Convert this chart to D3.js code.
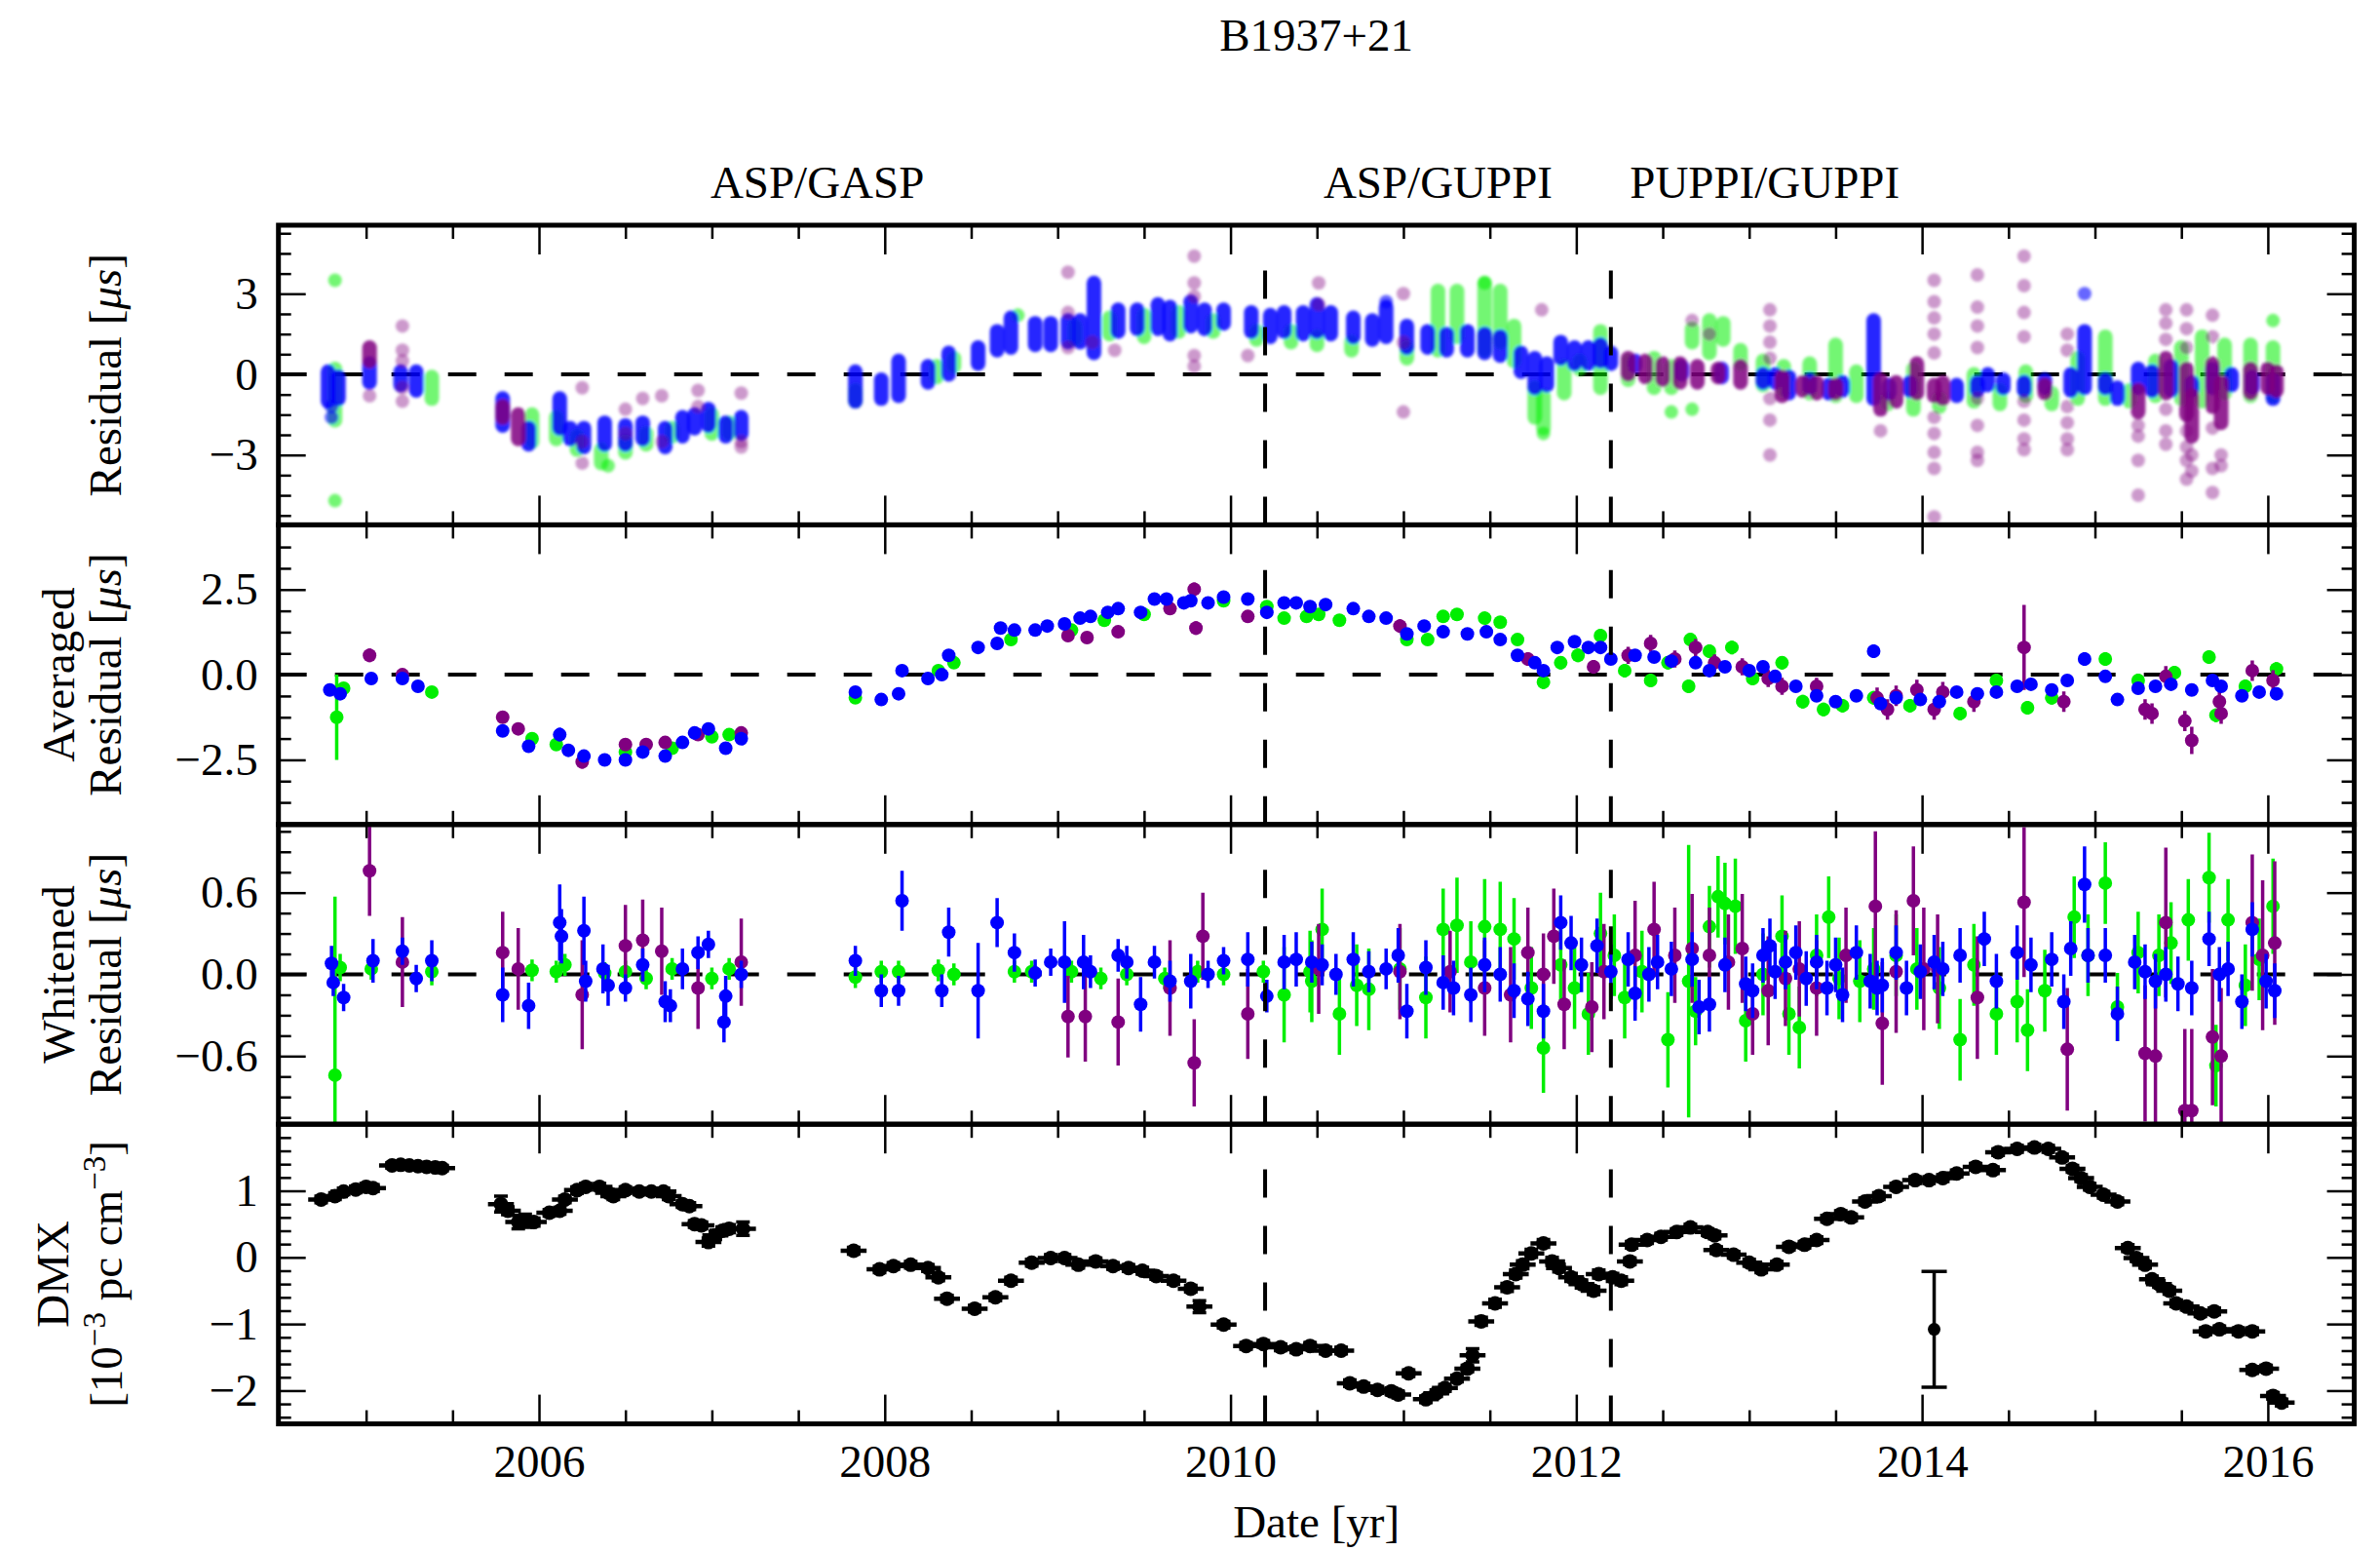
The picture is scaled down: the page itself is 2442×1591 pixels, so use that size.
<!DOCTYPE html>
<html>
<head>
<meta charset="utf-8">
<script src="https://cdn.jsdelivr.net/npm/d3@7"></script>
<style>
  body { margin: 0; background: #fff; }
</style>
</head>
<body>
<svg id="chart"></svg>
<script>
// ---------- data ----------
const chartTitle = "B1937+21";
const yearTicks = [2006, 2008, 2010, 2012, 2014, 2016];
const backendNames = ["ASP/GASP", "ASP/GUPPI", "PUPPI/GUPPI"];
const backendNameYears = [2007.61, 2011.2, 2013.09];
const backendBreaks = [2010.2, 2012.2];

const resTicks = [-3, 0, 3];
const avgTicks = [-2.5, 0, 2.5];
const whiteTicks = [-0.6, 0, 0.6];
const dmxTicks = [-2, -1, 0, 1];

// panel 1: raw residuals, per epoch [year, low, high] plus single outlying TOAs [year, value]
const resBlueEpochs = [
  [2004.78,-1.0,0.1],[2004.84,-0.9,-0.1],[2005.02,-0.3,0.4],[2005.20,-0.4,0.1],[2005.29,-0.6,0.1],
  [2005.79,-1.9,-0.9],[2005.94,-2.6,-2.0],[2006.12,-2.0,-0.9],[2006.18,-2.4,-2.0],[2006.26,-2.7,-2.0],
  [2006.38,-2.6,-1.8],[2006.50,-2.6,-1.9],[2006.60,-2.4,-1.8],[2006.73,-2.7,-2.0],[2006.83,-2.3,-1.6],
  [2006.90,-2.0,-1.5],[2006.98,-1.9,-1.3],[2007.08,-2.3,-1.8],[2007.17,-2.2,-1.6],
  [2007.83,-1.0,0.1],[2007.98,-0.9,-0.2],[2008.08,-0.8,0.5],[2008.25,-0.3,0.3],[2008.37,0.0,0.8],
  [2008.54,0.4,1.0],[2008.65,0.9,1.6],[2008.73,1.0,2.1],[2008.87,1.1,1.9],[2008.96,1.1,1.9],
  [2009.06,1.2,2.0],[2009.13,1.2,2.0],[2009.21,0.8,3.4],[2009.35,1.6,2.4],[2009.46,1.7,2.4],
  [2009.58,1.7,2.6],[2009.65,1.5,2.5],[2009.77,1.8,2.7],[2009.85,1.7,2.4],[2009.96,1.9,2.4],
  [2010.12,1.6,2.3],[2010.23,1.4,2.2],[2010.31,1.6,2.3],[2010.42,1.5,2.3],[2010.50,1.6,2.6],
  [2010.58,1.5,2.3],[2010.71,1.4,2.1],[2010.82,1.3,2.0],[2010.90,1.4,2.5],[2011.02,1.0,1.8],
  [2011.14,1.0,1.6],[2011.25,0.9,1.5],[2011.37,0.9,1.6],[2011.47,0.8,1.5],[2011.56,0.7,1.4],
  [2011.68,0.1,0.8],[2011.76,-0.5,0.6],[2011.83,-0.4,0.4],[2011.91,0.6,1.2],[2011.99,0.4,1.0],
  [2012.07,0.4,1.0],[2012.14,0.5,1.1],[2012.20,0.4,0.8],[2012.34,0.3,0.5],[2012.61,0.0,0.3],
  [2012.84,-0.1,0.2],[2013.08,-0.3,0.0],[2013.15,-0.3,0.0],[2013.23,-0.7,-0.1],[2013.35,-0.5,-0.2],
  [2013.46,-0.7,-0.4],[2013.54,-0.6,-0.3],[2013.72,-0.9,2.0],[2013.81,-0.7,-0.4],[2013.93,-0.6,-0.3],
  [2014.20,-0.8,-0.4],[2014.32,-0.6,-0.3],[2014.38,-0.4,0.0],[2014.47,-0.5,-0.2],[2014.59,-0.6,-0.3],
  [2014.71,-0.5,-0.2],[2014.86,-0.6,0.0],[2014.94,-0.5,1.6],[2015.06,-0.5,-0.2],[2015.13,-0.9,-0.5],
  [2015.25,-0.5,0.2],[2015.33,-0.6,0.1],[2015.44,-0.6,0.3],[2015.56,-0.6,-0.3],[2015.68,-0.5,0.2],
  [2015.79,-0.4,0.0],[2015.91,-0.5,-0.1],[2016.03,-0.9,-0.2]
];
const resBlueOut = [[2004.80,-1.2],[2004.80,-1.6],[2010.90,2.7],[2014.94,3.0]];

const resGreenEpochs = [
  [2004.82,-1.7,0.2],[2005.38,-0.9,-0.1],[2005.96,-2.5,-1.5],[2006.10,-2.4,-1.6],[2006.22,-2.8,-2.3],
  [2006.36,-3.3,-2.8],[2006.50,-2.9,-2.5],[2006.62,-2.6,-2.2],[2006.77,-2.3,-2.0],[2007.00,-2.2,-1.5],
  [2007.10,-2.2,-1.8],[2007.83,-1.0,-0.6],[2008.30,-0.1,0.3],[2008.40,0.3,0.6],[2009.10,1.3,1.8],
  [2009.30,1.5,2.1],[2009.50,1.4,2.2],[2009.70,1.6,2.3],[2009.90,1.6,2.0],[2010.15,1.3,1.6],
  [2010.35,1.2,1.6],[2010.50,1.1,1.4],[2010.70,0.9,1.2],[2011.02,0.6,1.0],[2011.20,0.9,3.1],
  [2011.31,1.4,3.1],[2011.47,0.9,3.4],[2011.56,1.2,3.1],[2011.64,0.5,1.8],[2011.76,-1.6,-0.5],
  [2011.81,-2.0,-0.8],[2011.93,-0.7,0.3],[2012.02,0.2,0.5],[2012.14,-0.5,1.6],[2012.30,-0.2,0.5],
  [2012.45,-0.5,0.6],[2012.55,-0.5,0.3],[2012.67,1.2,1.7],[2012.77,0.8,2.0],[2012.85,1.3,1.9],
  [2012.95,0.4,0.9],[2013.08,-0.4,0.5],[2013.20,-0.6,0.3],[2013.35,-0.7,0.4],[2013.50,-0.8,1.1],
  [2013.62,-0.8,0.1],[2013.80,-1.1,-0.9],[2013.95,-1.3,0.2],[2014.10,-1.2,-0.9],[2014.30,-1.0,0.0],
  [2014.45,-1.1,-0.6],[2014.60,-0.8,0.1],[2014.75,-1.1,-0.7],[2014.90,-0.9,0.6],[2015.06,-0.9,1.4],
  [2015.20,-1.0,-0.6],[2015.35,-0.8,0.5],[2015.50,-0.9,1.0],[2015.62,-1.0,1.4],[2015.75,-0.7,1.1],
  [2015.90,-0.8,1.1],[2016.03,-0.8,1.0]
];
const resGreenOut = [[2004.82,3.5],[2004.82,-4.7],[2006.40,-3.4],[2008.77,2.2],[2011.47,3.4],
  [2011.81,-2.2],[2012.55,-1.4],[2012.67,-1.3],[2016.03,2.0]];

const resPurpleEpochs = [
  [2005.02,0.5,1.0],[2005.79,-1.6,-1.2],[2005.88,-2.4,-1.5],[2012.30,0.0,0.6],[2012.40,-0.1,0.5],
  [2012.50,-0.2,0.4],[2012.60,-0.3,0.4],[2012.70,-0.3,0.3],[2012.82,-0.1,0.2],[2012.95,-0.3,0.3],
  [2013.19,-0.8,-0.1],[2013.31,-0.6,-0.3],[2013.39,-0.7,-0.3],[2013.50,-0.7,-0.4],[2013.76,-1.3,-0.2],
  [2013.85,-1.0,-0.3],[2013.97,-0.7,0.4],[2014.07,-0.8,-0.4],[2014.12,-0.9,-0.3],[2014.71,-0.7,-0.4],
  [2015.25,-1.4,-0.6],[2015.41,-0.7,0.6],[2015.53,-1.5,0.2],[2015.56,-2.3,-0.8],[2015.68,-1.2,0.4],
  [2015.73,-1.8,-0.3],[2015.90,-0.7,0.2],[2016.00,-0.5,0.2],[2016.05,-0.6,0.1]
];
const resPurpleOut = [
  [2005.02,-0.8],[2005.21,1.8],[2005.21,0.9],[2005.21,0.5],[2005.21,-0.5],[2005.21,-1.0],
  [2006.25,-0.5],[2006.25,-2.5],[2006.25,-3.3],[2006.50,-1.3],[2006.50,-2.2],[2006.60,-0.9],
  [2006.71,-0.8],[2006.71,-2.5],[2006.92,-0.6],[2006.92,-1.2],[2007.17,-0.7],[2007.17,-2.5],
  [2007.17,-2.7],[2009.06,3.8],[2009.06,2.3],[2009.06,1.0],[2009.20,1.2],[2009.33,0.9],
  [2009.79,4.4],[2009.79,3.4],[2009.79,2.9],[2009.79,0.7],[2009.79,0.3],[2010.10,0.7],
  [2010.51,3.4],[2010.51,2.6],[2011.00,3.0],[2011.00,1.2],[2011.00,-1.4],[2011.80,2.4],
  [2012.67,2.0],[2012.77,1.5],[2013.12,2.4],[2013.12,1.8],[2013.12,1.2],[2013.12,0.6],
  [2013.12,-0.9],[2013.12,-1.7],[2013.12,-3.0],[2013.76,-2.1],[2014.07,3.5],[2014.07,2.7],
  [2014.07,2.1],[2014.07,1.5],[2014.07,0.8],[2014.07,-1.6],[2014.07,-2.2],[2014.07,-2.9],
  [2014.07,-3.5],[2014.07,-5.3],[2014.32,3.7],[2014.32,2.5],[2014.32,1.8],[2014.32,1.0],
  [2014.32,-0.9],[2014.32,-1.9],[2014.32,-2.9],[2014.32,-3.2],[2014.59,4.4],[2014.59,3.3],
  [2014.59,2.3],[2014.59,1.4],[2014.59,-1.0],[2014.59,-1.7],[2014.59,-2.4],[2014.59,-2.8],
  [2014.84,1.5],[2014.84,0.9],[2014.84,-1.2],[2014.84,-1.8],[2014.84,-2.4],[2014.84,-2.8],
  [2015.25,-1.9],[2015.25,-2.3],[2015.25,-3.2],[2015.25,-4.5],[2015.41,2.4],[2015.41,1.9],
  [2015.41,1.3],[2015.41,-1.3],[2015.41,-2.1],[2015.41,-2.6],[2015.53,2.4],[2015.53,1.7],
  [2015.53,1.0],[2015.53,-2.1],[2015.53,-2.7],[2015.53,-3.2],[2015.53,-3.9],[2015.56,-3.0],
  [2015.56,-3.6],[2015.68,2.2],[2015.68,1.4],[2015.68,-2.0],[2015.68,-3.5],[2015.68,-4.4],
  [2015.73,-3.0],[2015.73,-3.4]
];

// panel 2: averaged residuals [year, value, error]
const avgBlue = [
  [2004.79,-0.45,0.12],[2004.85,-0.56,0.12],[2005.03,-0.11,0.1],[2005.21,-0.11,0.1],[2005.30,-0.34,0.1],
  [2005.79,-1.65,0.12],[2005.94,-2.10,0.1],[2006.12,-1.76,0.2],[2006.17,-2.22,0.1],[2006.26,-2.39,0.15],
  [2006.38,-2.50,0.1],[2006.50,-2.50,0.1],[2006.60,-2.27,0.1],[2006.73,-2.39,0.1],[2006.83,-1.99,0.1],
  [2006.90,-1.71,0.1],[2006.98,-1.59,0.12],[2007.08,-2.16,0.1],[2007.17,-1.88,0.1],
  [2007.83,-0.51,0.1],[2007.98,-0.73,0.1],[2008.08,-0.56,0.1],[2008.10,0.12,0.15],[2008.25,-0.11,0.1],
  [2008.33,0.00,0.1],[2008.37,0.57,0.15],[2008.54,0.80,0.15],[2008.65,0.92,0.1],[2008.67,1.37,0.12],
  [2008.75,1.31,0.1],[2008.87,1.31,0.1],[2008.94,1.43,0.1],[2009.04,1.49,0.1],[2009.13,1.66,0.12],
  [2009.19,1.71,0.1],[2009.29,1.83,0.1],[2009.35,1.94,0.1],[2009.48,1.83,0.1],[2009.56,2.22,0.1],
  [2009.63,2.22,0.1],[2009.73,2.11,0.1],[2009.77,2.17,0.1],[2009.87,2.11,0.1],[2009.96,2.28,0.1],
  [2010.10,2.22,0.1],[2010.21,1.83,0.1],[2010.31,2.11,0.1],[2010.38,2.11,0.1],[2010.46,2.00,0.1],
  [2010.55,2.06,0.1],[2010.71,1.94,0.1],[2010.80,1.71,0.1],[2010.90,1.66,0.1],[2011.02,1.20,0.1],
  [2011.12,1.43,0.1],[2011.23,1.26,0.1],[2011.37,1.20,0.1],[2011.48,1.26,0.1],[2011.56,1.03,0.1],
  [2011.66,0.57,0.1],[2011.76,0.35,0.1],[2011.81,0.12,0.1],[2011.89,0.80,0.1],[2011.99,0.97,0.1],
  [2012.07,0.80,0.1],[2012.14,0.80,0.1],[2012.20,0.46,0.1],[2012.34,0.57,0.1],[2012.45,0.52,0.1],
  [2012.55,0.40,0.1],[2012.69,0.35,0.1],[2012.77,0.12,0.1],[2012.86,0.23,0.1],[2013.00,0.12,0.1],
  [2013.08,0.23,0.1],[2013.15,-0.05,0.1],[2013.27,-0.34,0.1],[2013.39,-0.62,0.1],[2013.50,-0.79,0.1],
  [2013.62,-0.62,0.1],[2013.72,0.69,0.2],[2013.76,-0.85,0.1],[2013.85,-0.68,0.1],[2013.99,-0.73,0.1],
  [2014.10,-0.79,0.1],[2014.20,-0.51,0.1],[2014.32,-0.56,0.1],[2014.43,-0.51,0.1],[2014.55,-0.34,0.1],
  [2014.63,-0.28,0.1],[2014.75,-0.45,0.1],[2014.84,-0.17,0.1],[2014.94,0.46,0.2],[2015.06,-0.05,0.1],
  [2015.13,-0.73,0.12],[2015.25,-0.40,0.1],[2015.35,-0.34,0.1],[2015.44,-0.28,0.1],[2015.56,-0.45,0.1],
  [2015.68,-0.17,0.1],[2015.73,-0.34,0.1],[2015.85,-0.62,0.1],[2015.95,-0.51,0.1],[2016.05,-0.56,0.1]
];
const avgGreen = [
  [2004.83,-1.25,1.25],[2004.87,-0.40,0.15],[2005.38,-0.51,0.1],[2005.96,-1.88,0.1],[2006.10,-2.05,0.1],
  [2006.50,-2.27,0.1],[2006.77,-2.16,0.1],[2007.00,-1.82,0.1],[2007.10,-1.76,0.1],[2007.83,-0.68,0.1],
  [2008.31,0.12,0.1],[2008.40,0.35,0.1],[2008.73,1.03,0.1],[2009.08,1.31,0.1],[2009.27,1.60,0.1],
  [2009.50,1.77,0.1],[2009.96,2.17,0.1],[2010.21,2.00,0.1],[2010.31,1.66,0.1],[2010.44,1.71,0.1],
  [2010.51,1.77,0.15],[2010.63,1.60,0.15],[2011.02,1.03,0.15],[2011.14,1.03,0.15],[2011.23,1.71,0.15],
  [2011.31,1.77,0.15],[2011.47,1.66,0.15],[2011.56,1.54,0.15],[2011.66,1.03,0.15],[2011.81,-0.22,0.2],
  [2011.91,0.35,0.2],[2012.01,0.57,0.2],[2012.14,1.15,0.2],[2012.28,0.12,0.2],[2012.43,-0.17,0.2],
  [2012.53,0.35,0.2],[2012.65,-0.34,0.2],[2012.66,1.03,0.2],[2012.77,0.69,0.2],[2012.90,0.80,0.2],
  [2013.02,-0.11,0.2],[2013.19,0.35,0.2],[2013.31,-0.79,0.2],[2013.43,-1.02,0.2],[2013.54,-0.91,0.2],
  [2013.72,-0.68,0.2],[2013.93,-0.91,0.2],[2014.22,-1.14,0.2],[2014.43,-0.17,0.2],[2014.61,-0.97,0.2],
  [2014.75,-0.68,0.2],[2015.06,0.46,0.2],[2015.25,-0.17,0.2],[2015.46,0.06,0.2],[2015.66,0.52,0.2],
  [2015.70,-1.19,0.2],[2015.87,-0.34,0.2],[2016.05,0.17,0.2]
];
const avgPurple = [
  [2005.02,0.57,0.2],[2005.21,0.00,0.15],[2005.79,-1.25,0.15],[2005.88,-1.59,0.15],[2006.25,-2.56,0.2],
  [2006.50,-2.05,0.15],[2006.62,-2.05,0.15],[2006.73,-1.99,0.15],[2006.92,-1.76,0.15],[2007.17,-1.71,0.15],
  [2009.06,1.15,0.15],[2009.17,1.09,0.15],[2009.35,1.26,0.15],[2009.65,1.94,0.15],[2009.79,2.51,0.2],
  [2009.80,1.37,0.2],[2010.10,1.71,0.15],[2010.98,1.43,0.2],[2011.72,0.46,0.2],[2012.10,0.23,0.2],
  [2012.30,0.57,0.25],[2012.43,0.92,0.25],[2012.57,0.46,0.25],[2012.69,0.80,0.25],[2012.80,0.35,0.25],
  [2012.96,0.23,0.25],[2013.11,-0.11,0.25],[2013.19,-0.34,0.25],[2013.39,-0.34,0.25],[2013.74,-0.68,0.3],
  [2013.80,-1.02,0.3],[2013.85,-0.62,0.3],[2013.97,-0.45,0.3],[2014.07,-1.02,0.3],[2014.12,-0.51,0.3],
  [2014.30,-0.79,0.3],[2014.59,0.80,1.25],[2014.82,-0.79,0.3],[2015.29,-1.02,0.3],[2015.33,-1.14,0.3],
  [2015.41,-0.05,0.3],[2015.52,-1.36,0.3],[2015.56,-1.93,0.4],[2015.72,-0.79,0.3],[2015.73,-1.14,0.3],
  [2015.91,0.12,0.3],[2016.03,-0.17,0.3]
];

// panel 3: whitened residuals [year, value, error]
const whiteBlue = [
  [2004.80,0.08,0.13],[2004.81,-0.06,0.1],[2004.87,-0.17,0.1],[2005.04,0.10,0.16],[2005.21,0.17,0.1],
  [2005.29,-0.03,0.1],[2005.38,0.10,0.15],[2005.79,-0.15,0.2],[2005.94,-0.23,0.17],[2006.12,0.38,0.28],
  [2006.13,0.28,0.2],[2006.26,0.32,0.25],[2006.27,-0.05,0.15],[2006.37,0.04,0.18],[2006.40,-0.08,0.15],
  [2006.50,-0.10,0.1],[2006.60,0.07,0.12],[2006.73,-0.20,0.15],[2006.76,-0.23,0.12],[2006.83,0.04,0.15],
  [2006.92,0.16,0.12],[2006.98,0.22,0.1],[2007.07,-0.35,0.15],[2007.08,-0.16,0.15],[2007.17,0.00,0.1],
  [2007.83,0.10,0.11],[2007.98,-0.12,0.12],[2008.08,-0.12,0.11],[2008.10,0.54,0.22],[2008.33,-0.12,0.12],
  [2008.37,0.31,0.18],[2008.54,-0.12,0.35],[2008.65,0.38,0.18],[2008.75,0.16,0.14],[2008.87,0.01,0.1],
  [2008.96,0.09,0.1],[2009.04,0.09,0.3],[2009.15,0.09,0.2],[2009.19,0.02,0.12],[2009.35,0.14,0.12],
  [2009.40,0.09,0.12],[2009.48,-0.22,0.2],[2009.56,0.09,0.12],[2009.65,-0.05,0.15],[2009.77,-0.05,0.2],
  [2009.87,0.00,0.1],[2009.96,0.10,0.1],[2010.10,0.11,0.2],[2010.21,-0.16,0.12],[2010.31,0.09,0.2],
  [2010.38,0.11,0.2],[2010.47,0.09,0.15],[2010.53,0.07,0.15],[2010.61,0.00,0.15],[2010.71,0.11,0.2],
  [2010.80,0.02,0.15],[2010.90,0.04,0.15],[2010.97,0.14,0.2],[2011.02,-0.27,0.2],[2011.13,0.05,0.2],
  [2011.23,-0.06,0.2],[2011.29,-0.10,0.2],[2011.39,-0.15,0.2],[2011.47,0.07,0.2],[2011.56,0.00,0.2],
  [2011.64,-0.12,0.2],[2011.72,-0.18,0.2],[2011.81,-0.27,0.2],[2011.91,0.38,0.2],[2011.97,0.23,0.2],
  [2012.03,0.07,0.2],[2012.12,0.21,0.2],[2012.20,0.02,0.2],[2012.30,0.11,0.2],[2012.34,-0.14,0.2],
  [2012.42,0.00,0.2],[2012.47,0.09,0.2],[2012.55,0.04,0.2],[2012.67,0.11,0.2],[2012.71,-0.24,0.2],
  [2012.77,-0.22,0.2],[2012.86,0.07,0.2],[2012.98,-0.07,0.2],[2013.02,-0.12,0.2],[2013.08,0.14,0.2],
  [2013.12,0.21,0.2],[2013.15,0.02,0.2],[2013.21,0.09,0.2],[2013.27,0.16,0.2],[2013.33,-0.03,0.2],
  [2013.39,0.09,0.2],[2013.45,-0.10,0.2],[2013.50,0.07,0.2],[2013.54,-0.15,0.2],[2013.62,0.16,0.2],
  [2013.70,-0.05,0.2],[2013.74,-0.10,0.2],[2013.77,-0.08,0.2],[2013.85,0.16,0.2],[2013.91,-0.10,0.2],
  [2013.99,0.02,0.2],[2014.07,0.09,0.2],[2014.12,0.04,0.2],[2014.22,0.14,0.2],[2014.36,0.26,0.2],
  [2014.43,-0.05,0.2],[2014.55,0.16,0.2],[2014.63,0.07,0.2],[2014.75,0.11,0.2],[2014.82,-0.20,0.2],
  [2014.86,0.19,0.2],[2014.94,0.66,0.28],[2014.96,0.14,0.2],[2015.06,0.14,0.2],[2015.13,-0.29,0.2],
  [2015.23,0.09,0.2],[2015.29,0.02,0.2],[2015.35,-0.05,0.2],[2015.41,0.00,0.2],[2015.48,-0.07,0.2],
  [2015.56,-0.10,0.2],[2015.66,0.26,0.2],[2015.72,0.00,0.2],[2015.77,0.04,0.2],[2015.85,-0.20,0.2],
  [2015.91,0.33,0.2],[2015.99,-0.05,0.2],[2016.04,-0.12,0.2]
];
const whiteGreen = [
  [2004.82,-0.74,1.31],[2004.85,0.05,0.1],[2005.03,0.04,0.08],[2005.38,0.02,0.1],[2005.96,0.03,0.08],
  [2006.10,0.02,0.08],[2006.15,0.07,0.08],[2006.38,0.01,0.08],[2006.50,0.02,0.08],[2006.62,-0.03,0.08],
  [2006.77,0.04,0.08],[2007.00,-0.03,0.08],[2007.10,0.04,0.08],[2007.83,-0.02,0.08],[2007.98,0.02,0.08],
  [2008.08,0.02,0.08],[2008.31,0.03,0.08],[2008.40,0.00,0.08],[2008.75,0.02,0.08],[2008.85,0.02,0.08],
  [2009.08,0.02,0.08],[2009.25,-0.03,0.08],[2009.40,0.00,0.08],[2009.62,-0.03,0.08],[2009.81,0.02,0.08],
  [2009.96,0.00,0.08],[2010.19,0.02,0.08],[2010.31,-0.15,0.35],[2010.46,0.02,0.3],
  [2010.47,-0.05,0.3],[2010.53,0.33,0.3],[2010.63,-0.29,0.3],[2010.73,-0.08,0.3],[2010.80,-0.11,0.3],
  [2010.98,0.04,0.3],[2011.13,-0.17,0.3],[2011.23,0.33,0.3],[2011.31,0.36,0.35],[2011.39,0.09,0.3],
  [2011.47,0.35,0.35],[2011.56,0.33,0.35],[2011.64,0.26,0.3],[2011.74,-0.10,0.3],[2011.81,-0.54,0.33],
  [2011.91,0.07,0.3],[2011.99,-0.10,0.3],[2012.07,-0.29,0.3],[2012.14,0.30,0.3],[2012.22,0.14,0.3],
  [2012.28,-0.17,0.3],[2012.38,0.02,0.3],[2012.53,-0.48,0.35],[2012.65,-0.05,1.0],[2012.69,-0.27,0.25],
  [2012.77,0.35,0.3],[2012.82,0.57,0.3],[2012.86,0.52,0.3],[2012.92,0.50,0.35],[2012.98,-0.34,0.3],
  [2013.08,0.00,0.3],[2013.19,0.28,0.3],[2013.23,-0.29,0.3],[2013.29,-0.39,0.3],[2013.39,0.14,0.3],
  [2013.46,0.42,0.3],[2013.52,-0.03,0.3],[2013.64,-0.05,0.3],[2013.72,0.04,0.3],[2013.85,0.14,0.3],
  [2013.97,0.04,0.3],[2014.10,-0.10,0.3],[2014.22,-0.48,0.3],[2014.30,0.07,0.3],[2014.43,-0.29,0.3],
  [2014.55,-0.20,0.3],[2014.61,-0.41,0.3],[2014.71,-0.12,0.3],[2014.88,0.42,0.3],[2014.96,0.14,0.3],
  [2015.06,0.67,0.3],[2015.13,-0.24,0.25],[2015.25,0.16,0.3],[2015.37,0.14,0.3],[2015.44,0.23,0.3],
  [2015.54,0.40,0.3],[2015.66,0.71,0.33],[2015.70,-0.67,0.3],[2015.77,0.40,0.3],[2015.87,-0.08,0.3],
  [2015.95,0.11,0.3],[2016.03,0.50,0.35]
];
const whitePurple = [
  [2005.02,0.76,0.33],[2005.21,0.09,0.33],[2005.79,0.16,0.3],[2005.88,0.04,0.3],[2006.25,-0.15,0.4],
  [2006.50,0.21,0.3],[2006.60,0.25,0.3],[2006.71,0.17,0.32],[2006.92,-0.10,0.3],[2007.17,0.09,0.32],
  [2009.06,-0.31,0.3],[2009.16,-0.31,0.33],[2009.35,-0.35,0.32],[2009.65,-0.10,0.35],[2009.79,-0.65,0.32],
  [2009.84,0.28,0.32],[2010.10,-0.29,0.33],[2010.51,0.04,0.33],[2010.98,0.02,0.35],[2011.27,0.02,0.3],
  [2011.47,-0.10,0.35],[2011.62,-0.15,0.35],[2011.72,0.16,0.33],[2011.81,0.00,0.3],[2011.87,0.28,0.35],
  [2011.93,-0.22,0.33],[2012.09,-0.24,0.33],[2012.16,0.02,0.35],[2012.34,0.14,0.4],[2012.45,0.33,0.35],
  [2012.57,0.14,0.35],[2012.67,0.19,0.4],[2012.77,0.14,0.35],[2012.88,0.09,0.35],[2012.96,0.19,0.4],
  [2013.02,-0.29,0.3],[2013.11,-0.12,0.4],[2013.21,-0.03,0.35],[2013.29,0.04,0.35],[2013.39,-0.10,0.35],
  [2013.56,0.14,0.35],[2013.73,0.50,0.55],[2013.77,-0.36,0.45],[2013.85,0.02,0.45],[2013.95,0.54,0.4],
  [2014.01,0.04,0.45],[2014.09,0.04,0.4],[2014.32,-0.17,0.45],[2014.59,0.53,0.55],[2014.84,-0.55,0.45],
  [2015.29,-0.58,0.5],[2015.35,-0.60,0.5],[2015.41,0.38,0.55],[2015.52,-1.00,0.6],[2015.56,-1.00,0.6],
  [2015.68,-0.46,0.5],[2015.73,-0.60,0.5],[2015.91,0.38,0.5],[2015.97,0.14,0.55],[2016.04,0.23,0.6]
];

// panel 4: DMX [year, value, error]
const dmxValues = [
  [2004.74,0.87,0.05],[2004.82,0.92,0.05],[2004.87,0.99,0.05],[2004.94,1.02,0.05],[2005.00,1.06,0.05],
  [2005.04,1.04,0.05],[2005.15,1.38,0.04],[2005.20,1.39,0.04],[2005.25,1.38,0.04],[2005.30,1.37,0.04],
  [2005.35,1.36,0.04],[2005.40,1.35,0.04],[2005.44,1.34,0.04],[2005.78,0.80,0.12],[2005.82,0.70,0.06],
  [2005.88,0.53,0.1],[2005.92,0.55,0.1],[2005.97,0.53,0.06],[2006.06,0.67,0.05],[2006.12,0.70,0.05],
  [2006.15,0.87,0.05],[2006.22,1.01,0.05],[2006.27,1.06,0.05],[2006.35,1.06,0.05],[2006.40,0.97,0.05],
  [2006.43,0.92,0.05],[2006.50,1.01,0.05],[2006.58,0.99,0.05],[2006.65,0.99,0.05],[2006.72,0.99,0.05],
  [2006.75,0.92,0.05],[2006.83,0.80,0.05],[2006.87,0.77,0.05],[2006.90,0.50,0.05],[2006.94,0.48,0.05],
  [2006.98,0.23,0.06],[2007.02,0.33,0.06],[2007.06,0.40,0.06],[2007.10,0.43,0.06],[2007.18,0.43,0.1],
  [2007.82,0.10,0.05],[2007.97,-0.18,0.05],[2008.05,-0.13,0.05],[2008.15,-0.11,0.05],[2008.25,-0.16,0.05],
  [2008.31,-0.30,0.05],[2008.36,-0.62,0.05],[2008.52,-0.77,0.05],[2008.64,-0.60,0.05],[2008.73,-0.35,0.05],
  [2008.85,-0.08,0.05],[2008.96,-0.01,0.05],[2009.04,-0.01,0.05],[2009.12,-0.11,0.05],[2009.22,-0.06,0.05],
  [2009.32,-0.13,0.05],[2009.41,-0.16,0.05],[2009.49,-0.20,0.05],[2009.57,-0.28,0.05],[2009.67,-0.35,0.05],
  [2009.77,-0.47,0.05],[2009.82,-0.74,0.09],[2009.96,-1.01,0.05],[2010.09,-1.33,0.05],[2010.19,-1.30,0.05],
  [2010.29,-1.35,0.05],[2010.38,-1.38,0.05],[2010.46,-1.33,0.05],[2010.55,-1.40,0.05],[2010.64,-1.40,0.05],
  [2010.69,-1.89,0.05],[2010.77,-1.94,0.05],[2010.85,-1.99,0.05],[2010.93,-2.01,0.05],[2010.97,-2.06,0.05],
  [2011.03,-1.74,0.05],[2011.13,-2.13,0.05],[2011.19,-2.04,0.05],[2011.24,-1.96,0.05],[2011.31,-1.82,0.05],
  [2011.37,-1.67,0.05],[2011.40,-1.47,0.1],[2011.45,-0.96,0.06],[2011.53,-0.69,0.06],[2011.60,-0.45,0.06],
  [2011.65,-0.25,0.06],[2011.69,-0.11,0.06],[2011.74,0.06,0.06],[2011.81,0.21,0.06],[2011.86,-0.06,0.06],
  [2011.90,-0.16,0.06],[2011.97,-0.30,0.06],[2012.03,-0.40,0.06],[2012.10,-0.50,0.06],[2012.13,-0.25,0.06],
  [2012.21,-0.30,0.06],[2012.26,-0.35,0.06],[2012.31,-0.06,0.05],[2012.32,0.19,0.05],[2012.41,0.26,0.05],
  [2012.49,0.31,0.05],[2012.58,0.38,0.05],[2012.66,0.45,0.05],[2012.76,0.38,0.05],[2012.80,0.33,0.05],
  [2012.81,0.11,0.05],[2012.91,0.04,0.05],[2013.00,-0.08,0.05],[2013.07,-0.18,0.05],[2013.16,-0.11,0.05],
  [2013.23,0.16,0.05],[2013.32,0.19,0.05],[2013.39,0.26,0.05],[2013.45,0.58,0.05],[2013.53,0.65,0.05],
  [2013.59,0.60,0.05],[2013.67,0.84,0.05],[2013.75,0.92,0.05],[2013.85,1.06,0.05],[2013.96,1.16,0.05],
  [2014.04,1.16,0.05],[2014.12,1.19,0.05],[2014.20,1.26,0.05],[2014.31,1.36,0.05],[2014.41,1.31,0.05],
  [2014.44,1.58,0.05],[2014.55,1.63,0.05],[2014.65,1.65,0.05],[2014.73,1.63,0.05],[2014.81,1.50,0.05],
  [2014.87,1.33,0.05],[2014.92,1.19,0.05],[2014.97,1.06,0.05],[2015.05,0.94,0.05],[2015.13,0.84,0.05],
  [2015.19,0.14,0.05],[2015.24,-0.01,0.05],[2015.29,-0.11,0.05],[2015.33,-0.33,0.05],[2015.37,-0.40,0.05],
  [2015.43,-0.50,0.05],[2015.47,-0.69,0.05],[2015.53,-0.74,0.05],[2015.61,-0.84,0.05],[2015.69,-0.81,0.05],
  [2015.64,-1.11,0.05],[2015.72,-1.08,0.05],[2015.83,-1.11,0.05],[2015.91,-1.11,0.05],[2015.91,-1.69,0.05],
  [2015.99,-1.67,0.05],[2016.03,-2.08,0.05],[2016.08,-2.18,0.05]
];
const dmxTypicalError = [2014.07, -1.08, 0.87];

// ---------- layout ----------
const W = 2442, H = 1591;
const plotLeft = 285.7, plotRight = 2415.6;
const panelTop = 231, panelH = 307.4;
const font = "'Liberation Serif', 'Times New Roman', 'DejaVu Serif', serif";
const fontSize = 47;

const green = "#00ee00", blue = "#0000ff", purple = "#800080";

const x = d3.scaleLinear().domain([2004.493, 2016.5]).range([plotLeft, plotRight]);

const svg = d3.select("#chart")
  .attr("width", W)
  .attr("height", H)
  .style("font-family", font);

svg.append("rect").attr("width", W).attr("height", H).attr("fill", "#fff");

// soft edges for the dense raw-residual clouds
svg.append("defs").append("filter").attr("id", "soft")
  .append("feGaussianBlur").attr("stdDeviation", 1.6);

const mu = [["Residual ["], ["μs", "i"], ["]"]];
const panels = [
  { domain: [-5.6, 5.55], ticks: resTicks, minor: 0.75, fmt: d3.format("d"),
    label: [mu], labelX: [124], zero: true },
  { domain: [-4.4, 4.4], ticks: avgTicks, minor: 0.625, fmt: d3.format(".1f"),
    label: [[["Averaged"]], mu], labelX: [76, 124], zero: true },
  { domain: [-1.1, 1.1], ticks: whiteTicks, minor: 0.15, fmt: d3.format(".1f"),
    label: [[["Whitened"]], mu], labelX: [76, 124], zero: true },
  { domain: [-2.5, 2.0], ticks: dmxTicks, minor: 0.2, fmt: d3.format("d"),
    label: [[["DMX"]], [["[10"], ["−3", "sup"], [" pc cm"], ["−3", "sup"], ["]"]]], labelX: [70, 125], zero: false }
];

panels.forEach((p, i) => {
  p.top = panelTop + i * panelH;
  p.bottom = p.top + panelH;
  p.y = d3.scaleLinear().domain(p.domain).range([p.bottom, p.top]);
  p.g = svg.append("g");
  svg.append("clipPath").attr("id", "clip" + i)
    .append("rect")
    .attr("x", plotLeft).attr("y", p.top)
    .attr("width", plotRight - plotLeft).attr("height", panelH);
  // dashed reference lines go under the data
  if (p.zero) {
    p.g.append("line")
      .attr("x1", plotLeft).attr("x2", plotRight)
      .attr("y1", p.y(0)).attr("y2", p.y(0))
      .attr("stroke", "#000").attr("stroke-width", 4)
      .attr("stroke-dasharray", "29,29");
  }
  p.plot = p.g.append("g").attr("clip-path", `url(#clip${i})`);
});

// ---------- panel 1: residuals ----------
const resLayers = [
  { epochs: resGreenEpochs, out: resGreenOut, color: green, core: 0.55, outOp: 0.55 },
  { epochs: resBlueEpochs, out: resBlueOut, color: blue, core: 0.85, outOp: 0.6 },
  { epochs: resPurpleEpochs, out: resPurpleOut, color: purple, core: 0.85, outOp: 0.4 }
];
const p1 = panels[0];
const resG = p1.plot.append("g").attr("filter", "url(#soft)");
resLayers.forEach(layer => {
  resG.append("g")
    .selectAll("line")
    .data(layer.epochs)
    .enter()
    .append("line")
    .attr("x1", d => x(d[0])).attr("x2", d => x(d[0]))
    .attr("y1", d => p1.y(d[1])).attr("y2", d => p1.y(d[2]))
    .attr("stroke", layer.color)
    .attr("stroke-width", 15)
    .attr("stroke-linecap", "round")
    .attr("stroke-opacity", layer.core);
  resG.append("g")
    .selectAll("circle")
    .data(layer.out)
    .enter()
    .append("circle")
    .attr("cx", d => x(d[0]))
    .attr("cy", d => p1.y(d[1]))
    .attr("r", 7)
    .attr("fill", layer.color)
    .attr("fill-opacity", layer.outOp);
});

// ---------- panels 2 and 3: error bar series ----------
function errorSeries(p, data, color) {
  const g = p.plot.append("g");
  g.selectAll("line")
    .data(data)
    .enter()
    .append("line")
    .attr("x1", d => x(d[0])).attr("x2", d => x(d[0]))
    .attr("y1", d => p.y(d[1] - d[2])).attr("y2", d => p.y(d[1] + d[2]))
    .attr("stroke", color)
    .attr("stroke-width", 3.5);
  g.selectAll("circle")
    .data(data)
    .enter()
    .append("circle")
    .attr("cx", d => x(d[0]))
    .attr("cy", d => p.y(d[1]))
    .attr("r", 7)
    .attr("fill", color);
}
errorSeries(panels[1], avgGreen, green);
errorSeries(panels[1], avgPurple, purple);
errorSeries(panels[1], avgBlue, blue);
errorSeries(panels[2], whiteGreen, green);
errorSeries(panels[2], whitePurple, purple);
errorSeries(panels[2], whiteBlue, blue);

// ---------- panel 4: DMX ----------
const p4 = panels[3];
const dmxHalfBin = 0.075;
const dmxG = p4.plot.append("g");
dmxG.selectAll(".xbar")
  .data(dmxValues)
  .enter()
  .append("line")
  .attr("x1", d => x(d[0] - dmxHalfBin)).attr("x2", d => x(d[0] + dmxHalfBin))
  .attr("y1", d => p4.y(d[1])).attr("y2", d => p4.y(d[1]))
  .attr("stroke", "#000").attr("stroke-width", 4.5);
dmxG.selectAll(".ybar")
  .data(dmxValues)
  .enter()
  .append("path")
  .attr("d", d => {
    const cx = x(d[0]), y0 = p4.y(d[1] - d[2]), y1 = p4.y(d[1] + d[2]);
    return `M${cx},${y0}V${y1}M${cx - 7},${y0}H${cx + 7}M${cx - 7},${y1}H${cx + 7}`;
  })
  .attr("stroke", "#000").attr("stroke-width", 3.5).attr("fill", "none");
dmxG.selectAll("circle")
  .data(dmxValues)
  .enter()
  .append("circle")
  .attr("cx", d => x(d[0]))
  .attr("cy", d => p4.y(d[1]))
  .attr("r", 7.5)
  .attr("fill", "#000");

// typical DMX uncertainty
const [ey, ev, ee] = dmxTypicalError;
p4.plot.append("path")
  .attr("d", `M${x(ey)},${p4.y(ev - ee)}V${p4.y(ev + ee)}` +
    `M${x(ey) - 13},${p4.y(ev - ee)}H${x(ey) + 13}M${x(ey) - 13},${p4.y(ev + ee)}H${x(ey) + 13}`)
  .attr("stroke", "#000").attr("stroke-width", 3.5).attr("fill", "none");
p4.plot.append("circle")
  .attr("cx", x(ey)).attr("cy", p4.y(ev)).attr("r", 6.5).attr("fill", "#000");

// ---------- backend boundaries ----------
panels.forEach(p => {
  backendBreaks.forEach(b => {
    p.g.append("line")
      .attr("x1", x(b)).attr("x2", x(b))
      .attr("y1", p.bottom).attr("y2", p.bottom - 262)
      .attr("stroke", "#000").attr("stroke-width", 4)
      .attr("stroke-dasharray", "29,29");
  });
});

// ---------- axes ----------
const xMinor = d3.range(4009, 4034).map(i => i / 2)
  .filter(v => !yearTicks.includes(v) && x(v) > plotLeft + 4 && x(v) < plotRight - 4);

function styleAxis(sel) {
  sel.select(".domain").remove();
  sel.selectAll(".tick line").attr("stroke", "#000").attr("stroke-width", 2.5);
  sel.selectAll(".tick text")
    .attr("fill", "#000")
    .style("font-family", font)
    .style("font-size", fontSize + "px");
}

panels.forEach((p, i) => {
  const yMinor = d3.range(Math.ceil(p.domain[0] / p.minor), Math.floor(p.domain[1] / p.minor) + 1)
    .map(k => +(k * p.minor).toFixed(4))
    .filter(v => !p.ticks.includes(v));
  const ax = p.g.append("g");

  ax.append("g").attr("transform", `translate(${plotLeft},0)`)
    .call(d3.axisLeft(p.y).tickValues(p.ticks).tickSizeInner(-28).tickSizeOuter(0)
      .tickPadding(21).tickFormat(p.fmt))
    .call(styleAxis);
  ax.append("g").attr("transform", `translate(${plotLeft},0)`)
    .call(d3.axisLeft(p.y).tickValues(yMinor).tickSizeInner(-13).tickSizeOuter(0).tickFormat(""))
    .call(styleAxis);
  ax.append("g").attr("transform", `translate(${plotRight},0)`)
    .call(d3.axisRight(p.y).tickValues(p.ticks).tickSizeInner(-28).tickSizeOuter(0).tickFormat(""))
    .call(styleAxis);
  ax.append("g").attr("transform", `translate(${plotRight},0)`)
    .call(d3.axisRight(p.y).tickValues(yMinor).tickSizeInner(-13).tickSizeOuter(0).tickFormat(""))
    .call(styleAxis);

  const last = i === panels.length - 1;
  ax.append("g").attr("transform", `translate(0,${p.bottom})`)
    .call(d3.axisBottom(x).tickValues(yearTicks).tickSizeInner(-30).tickSizeOuter(0)
      .tickPadding(21).tickFormat(last ? d3.format("d") : ""))
    .call(styleAxis);
  ax.append("g").attr("transform", `translate(0,${p.bottom})`)
    .call(d3.axisBottom(x).tickValues(xMinor).tickSizeInner(-14).tickSizeOuter(0).tickFormat(""))
    .call(styleAxis);
  ax.append("g").attr("transform", `translate(0,${p.top})`)
    .call(d3.axisTop(x).tickValues(yearTicks).tickSizeInner(-30).tickSizeOuter(0).tickFormat(""))
    .call(styleAxis);
  ax.append("g").attr("transform", `translate(0,${p.top})`)
    .call(d3.axisTop(x).tickValues(xMinor).tickSizeInner(-14).tickSizeOuter(0).tickFormat(""))
    .call(styleAxis);

  // frame
  ax.append("rect")
    .attr("x", plotLeft).attr("y", p.top)
    .attr("width", plotRight - plotLeft).attr("height", panelH)
    .attr("fill", "none").attr("stroke", "#000").attr("stroke-width", 5);

  // y label lines (rotated)
  const cy = (p.top + p.bottom) / 2;
  p.label.forEach((segs, li) => {
    const t = svg.append("text")
      .attr("transform", `translate(${p.labelX[li]},${cy}) rotate(-90)`)
      .attr("text-anchor", "middle")
      .style("font-size", fontSize + "px")
      .attr("fill", "#000");
    let raised = false;
    segs.forEach(([txt, kind]) => {
      const ts = t.append("tspan").text(txt);
      if (kind === "i") ts.style("font-style", "italic");
      if (kind === "sup") {
        ts.style("font-size", "33px").attr("dy", -17);
        raised = true;
      } else if (raised) {
        ts.attr("dy", 17);
        raised = false;
      }
    });
  });
});

// ---------- texts ----------
svg.append("text")
  .attr("x", (plotLeft + plotRight) / 2).attr("y", 52)
  .attr("text-anchor", "middle")
  .style("font-size", fontSize + "px")
  .text(chartTitle);

svg.append("g")
  .selectAll("text")
  .data(backendNames)
  .enter()
  .append("text")
  .attr("x", (d, i) => x(backendNameYears[i]))
  .attr("y", 203)
  .attr("text-anchor", "middle")
  .style("font-size", fontSize + "px")
  .text(d => d);

svg.append("text")
  .attr("x", (plotLeft + plotRight) / 2).attr("y", 1577)
  .attr("text-anchor", "middle")
  .style("font-size", fontSize + "px")
  .text("Date [yr]");
</script>
</body>
</html>
